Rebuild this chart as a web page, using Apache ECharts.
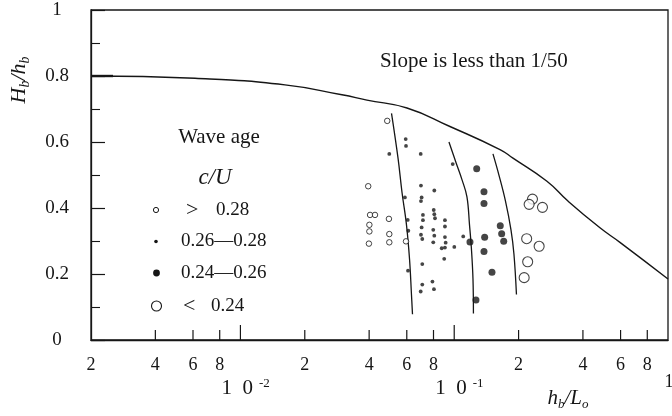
<!DOCTYPE html>
<html>
<head>
<meta charset="utf-8">
<script src="https://cdn.jsdelivr.net/npm/echarts@6/dist/echarts.min.js"></script>
<style>
html, body { margin: 0; padding: 0; background: #fff; }
#chart { width: 672px; height: 416px; }
</style>
</head>
<body>
<div id="chart"></div>
<script>
// Breaker height index Hb/hb against relative depth hb/Lo, grouped by wave age c/U.

// Breaking limit for bottom slopes flatter than 1/50
const limitCurve = [
  [0.002, 0.800], [0.00613, 0.793], [0.01616, 0.773], [0.02985, 0.743],
  [0.03907, 0.727], [0.06012, 0.703], [0.0955, 0.647], [0.1637, 0.577],
  [0.1883, 0.551], [0.2715, 0.481], [0.3404, 0.421], [0.4805, 0.340],
  [0.5959, 0.296], [1.0, 0.185]
];

// Dividing lines between wave-age groups
const boundaryA = [
  [0.0509, 0.687], [0.0546, 0.551], [0.0570, 0.447], [0.0598, 0.349],
  [0.0618, 0.245], [0.0631, 0.138], [0.0638, 0.078]
];
const boundaryB = [
  [0.0945, 0.600], [0.1019, 0.538], [0.1087, 0.486], [0.1147, 0.434],
  [0.1179, 0.349], [0.1204, 0.275], [0.1224, 0.185], [0.1230, 0.080]
];
const boundaryC = [
  [0.1518, 0.564], [0.1620, 0.499], [0.1737, 0.421], [0.1843, 0.334],
  [0.1903, 0.260], [0.1955, 0.138]
];

// Observations, c/U > 0.28
const ageAbove028 = [
  [0.0486, 0.664], [0.0396, 0.466], [0.0404, 0.379], [0.0426, 0.379],
  [0.0495, 0.367], [0.0401, 0.349], [0.0401, 0.329], [0.0497, 0.321],
  [0.0399, 0.292], [0.0497, 0.296], [0.0595, 0.299]
];
// Observations, 0.26 < c/U < 0.28
const age026to028 = [
  [0.0593, 0.609], [0.0595, 0.588], [0.0497, 0.564], [0.0697, 0.564],
  [0.0984, 0.533], [0.0699, 0.468], [0.0807, 0.453], [0.0588, 0.432],
  [0.0704, 0.432], [0.0699, 0.421], [0.0802, 0.394], [0.0807, 0.381],
  [0.0813, 0.369], [0.0714, 0.379], [0.0714, 0.363], [0.0606, 0.364],
  [0.0905, 0.363], [0.0905, 0.344], [0.0704, 0.341], [0.0798, 0.334],
  [0.0610, 0.331], [0.0699, 0.319], [0.0709, 0.306], [0.0807, 0.316],
  [0.0905, 0.312], [0.1102, 0.314], [0.0798, 0.296], [0.0912, 0.295],
  [0.0874, 0.278], [0.0905, 0.280], [0.1001, 0.282], [0.0898, 0.246],
  [0.0709, 0.230], [0.0608, 0.210], [0.0791, 0.177], [0.0709, 0.168],
  [0.0804, 0.154], [0.0697, 0.147]
];
// Observations, 0.24 < c/U < 0.26
const age024to026 = [
  [0.1274, 0.519], [0.1378, 0.449], [0.1378, 0.414], [0.1642, 0.346],
  [0.1667, 0.322], [0.1704, 0.299], [0.1388, 0.311], [0.1185, 0.297],
  [0.1378, 0.268], [0.1502, 0.205], [0.1264, 0.121]
];
// Observations, c/U < 0.24
const ageBelow024 = [
  [0.2323, 0.427], [0.2241, 0.411], [0.2587, 0.402], [0.2182, 0.307],
  [0.2496, 0.284], [0.2206, 0.237], [0.2124, 0.189]
];

// Axis ticks and labels
const xMinorTicks = [0.004, 0.006, 0.008, 0.02, 0.04, 0.06, 0.08, 0.2, 0.4, 0.6, 0.8];
const xDecadeTicks = [0.01, 0.1];
const xMinorLabels = [
  [0.002, '2'], [0.004, '4'], [0.006, '6'], [0.008, '8'],
  [0.02, '2'], [0.04, '4'], [0.06, '6'], [0.08, '8'],
  [0.2, '2'], [0.4, '4'], [0.6, '6'], [0.8, '8']
];
const xDecadeLabels = [[0.01, '-2'], [0.1, '-1']];
const xEdgeLabels = [[1, '1']];
const yTickLabels = ['0', '0.2', '0.4', '0.6', '0.8', '1'];
const yAccentTicks = [0.8];
const legendLabels = ['0.28', '0.26\u20140.28', '0.24\u20140.26', '0.24'];

const INK = '#161616';
const NUM_FONT = '"Liberation Serif", serif';
const TEXT_FONT = '"Liberation Serif", serif';

const chart = echarts.init(document.getElementById('chart'), null, { renderer: 'canvas' });

const option = {
  animation: false,
  backgroundColor: '#fff',
  grid: {
    left: 91, right: 4, top: 10, bottom: 76,
    show: true, borderColor: INK, borderWidth: 1.3, backgroundColor: 'transparent'
  },
  xAxis: {
    type: 'log', logBase: 10, min: 0.002, max: 1,
    axisLine: { show: true, lineStyle: { color: INK, width: 1.3 } },
    axisTick: { show: false },
    axisLabel: { show: false },
    splitLine: { show: false },
    minorTick: { show: false }
  },
  yAxis: {
    type: 'value', min: 0, max: 1, interval: 0.2,
    axisLine: { show: true, lineStyle: { color: INK, width: 1.3 } },
    axisTick: { show: true, inside: true, length: 14, lineStyle: { color: INK, width: 1.2 } },
    minorTick: { show: true, splitNumber: 2, length: 9, lineStyle: { color: INK, width: 1.1 } },
    axisLabel: {
      formatter: (v) => yTickLabels[Math.round(v / 0.2)],
      margin: 34, align: 'center',
      fontFamily: NUM_FONT, fontSize: 19, color: INK
    },
    splitLine: { show: false }
  },
  series: [
    {
      name: 'limit', type: 'line', data: limitCurve, smooth: 0.5,
      symbol: 'none', lineStyle: { color: INK, width: 1.4 }, silent: true, z: 2
    },
    {
      name: 'boundaryA', type: 'line', data: boundaryA, smooth: 0.4,
      symbol: 'none', lineStyle: { color: INK, width: 1.3 }, silent: true, z: 2
    },
    {
      name: 'boundaryB', type: 'line', data: boundaryB, smooth: 0.4,
      symbol: 'none', lineStyle: { color: INK, width: 1.3 }, silent: true, z: 2
    },
    {
      name: 'boundaryC', type: 'line', data: boundaryC, smooth: 0.4,
      symbol: 'none', lineStyle: { color: INK, width: 1.3 }, silent: true, z: 2
    },
    {
      name: '> 0.28', type: 'scatter', data: ageAbove028, symbol: 'circle', symbolSize: 5.5,
      itemStyle: { color: '#fff', borderColor: INK, borderWidth: 1 }, z: 4
    },
    {
      name: '0.26-0.28', type: 'scatter', data: age026to028, symbol: 'circle', symbolSize: 3.8,
      itemStyle: { color: INK }, z: 4
    },
    {
      name: '0.24-0.26', type: 'scatter', data: age024to026, symbol: 'circle', symbolSize: 7,
      itemStyle: { color: INK }, z: 4
    },
    {
      name: '< 0.24', type: 'scatter', data: ageBelow024, symbol: 'circle', symbolSize: 10,
      itemStyle: { color: '#fff', borderColor: INK, borderWidth: 1.1 }, z: 4
    },
    {
      // inward tick marks along the log axis
      name: 'xTicks', type: 'custom', clip: false, silent: true, z: 5,
      data: xMinorTicks.map(v => [v, 0, 0]).concat(xDecadeTicks.map(v => [v, 0, 1])),
      renderItem: (params, api) => {
        const p = api.coord([api.value(0), 0]);
        const len = api.value(2) ? 15 : 10;
        return {
          type: 'line',
          shape: { x1: p[0], y1: p[1], x2: p[0], y2: p[1] - len },
          style: { stroke: INK, lineWidth: 1.2 }
        };
      }
    },
    {
      // heavier tick where the limit curve meets the depth axis
      name: 'yAccent', type: 'custom', clip: false, silent: true, z: 5,
      data: yAccentTicks.map(v => [0.002, v]),
      renderItem: (params, api) => {
        const p = api.coord([api.value(0), api.value(1)]);
        return {
          type: 'line',
          shape: { x1: p[0], y1: p[1], x2: p[0] + 22, y2: p[1] },
          style: { stroke: INK, lineWidth: 2.4 }
        };
      }
    },
    {
      name: 'xMinorLabels', type: 'custom', clip: false, silent: true, z: 5,
      data: xMinorLabels.map(d => [d[0], 0]),
      renderItem: (params, api) => {
        const item = xMinorLabels[params.dataIndex];
        const p = api.coord([item[0], 0]);
        return {
          type: 'text', x: p[0], y: p[1] + 25,
          style: { text: item[1], font: '18px ' + NUM_FONT, fill: INK, align: 'center', verticalAlign: 'middle' }
        };
      }
    },
    {
      name: 'xDecadeLabels', type: 'custom', clip: false, silent: true, z: 5,
      data: xDecadeLabels.map(d => [d[0], 0]),
      renderItem: (params, api) => {
        const item = xDecadeLabels[params.dataIndex];
        const p = api.coord([item[0], 0]);
        return {
          type: 'text', x: p[0] - 19, y: p[1] + 48,
          style: {
            text: '{m|1  0}{e|' + item[1] + '}',
            align: 'left', verticalAlign: 'middle', fill: INK,
            rich: {
              m: { fontFamily: NUM_FONT, fontSize: 21, lineHeight: 22, verticalAlign: 'bottom', fill: INK },
              e: { fontFamily: NUM_FONT, fontSize: 13, lineHeight: 16, verticalAlign: 'top', padding: [0, 0, 0, 6], fill: INK }
            }
          }
        };
      }
    },
    {
      name: 'xEdgeLabels', type: 'custom', clip: false, silent: true, z: 5,
      data: xEdgeLabels.map(d => [d[0], 0]),
      renderItem: (params, api) => {
        const item = xEdgeLabels[params.dataIndex];
        const p = api.coord([item[0], 0]);
        return {
          type: 'text', x: p[0] + 1, y: p[1] + 42,
          style: { text: item[1], font: '18px ' + NUM_FONT, fill: INK, align: 'center', verticalAlign: 'middle' }
        };
      }
    }
  ],
  graphic: [
    // axis titles
    {
      type: 'text', x: 568, y: 398,
      style: {
        text: '{i|h}{s|b}{i|/L}{s|o}', align: 'center', verticalAlign: 'middle', fill: INK,
        rich: {
          i: { fontFamily: TEXT_FONT, fontStyle: 'italic', fontSize: 21, lineHeight: 26, verticalAlign: 'middle', fill: INK },
          s: { fontFamily: TEXT_FONT, fontStyle: 'italic', fontSize: 13, lineHeight: 14, verticalAlign: 'bottom', fill: INK }
        }
      }
    },
    {
      type: 'text', x: 19, y: 80, rotation: Math.PI / 2,
      style: {
        text: '{i|H}{s|b}{i|/h}{s|b}', align: 'center', verticalAlign: 'middle', fill: INK,
        rich: {
          i: { fontFamily: TEXT_FONT, fontStyle: 'italic', fontSize: 22, lineHeight: 26, verticalAlign: 'middle', fill: INK },
          s: { fontFamily: TEXT_FONT, fontStyle: 'italic', fontSize: 14, lineHeight: 14, verticalAlign: 'bottom', fill: INK }
        }
      }
    },
    // annotation
    {
      type: 'text', x: 380, y: 61,
      style: { text: 'Slope is less than 1/50', font: '21px ' + TEXT_FONT, fill: INK, align: 'left', verticalAlign: 'middle' }
    },
    // legend block
    {
      type: 'text', x: 219, y: 137,
      style: { text: 'Wave age', font: '21px ' + TEXT_FONT, fill: INK, align: 'center', verticalAlign: 'middle' }
    },
    {
      type: 'text', x: 215, y: 178,
      style: { text: 'c/U', font: 'italic 23px ' + TEXT_FONT, fill: INK, align: 'center', verticalAlign: 'middle' }
    },
    { type: 'circle', shape: { cx: 156, cy: 210, r: 2.6 }, style: { fill: '#fff', stroke: INK, lineWidth: 1 } },
    { type: 'circle', shape: { cx: 156, cy: 241.5, r: 1.8 }, style: { fill: INK } },
    { type: 'circle', shape: { cx: 156.5, cy: 273, r: 3.4 }, style: { fill: INK } },
    { type: 'circle', shape: { cx: 156.5, cy: 306, r: 5 }, style: { fill: '#fff', stroke: INK, lineWidth: 1.1 } },
    {
      type: 'text', x: 186, y: 210,
      style: { text: '>', font: '22px ' + NUM_FONT, fill: INK, align: 'left', verticalAlign: 'middle' }
    },
    {
      type: 'text', x: 216, y: 210,
      style: { text: legendLabels[0], font: '19px ' + NUM_FONT, fill: INK, align: 'left', verticalAlign: 'middle' }
    },
    {
      type: 'text', x: 181, y: 241.5,
      style: { text: legendLabels[1], font: '19px ' + NUM_FONT, fill: INK, align: 'left', verticalAlign: 'middle' }
    },
    {
      type: 'text', x: 181, y: 273,
      style: { text: legendLabels[2], font: '19px ' + NUM_FONT, fill: INK, align: 'left', verticalAlign: 'middle' }
    },
    {
      type: 'text', x: 183, y: 306,
      style: { text: '<', font: '22px ' + NUM_FONT, fill: INK, align: 'left', verticalAlign: 'middle' }
    },
    {
      type: 'text', x: 211, y: 306,
      style: { text: legendLabels[3], font: '19px ' + NUM_FONT, fill: INK, align: 'left', verticalAlign: 'middle' }
    }
  ]
};

chart.setOption(option);
</script>
</body>
</html>
